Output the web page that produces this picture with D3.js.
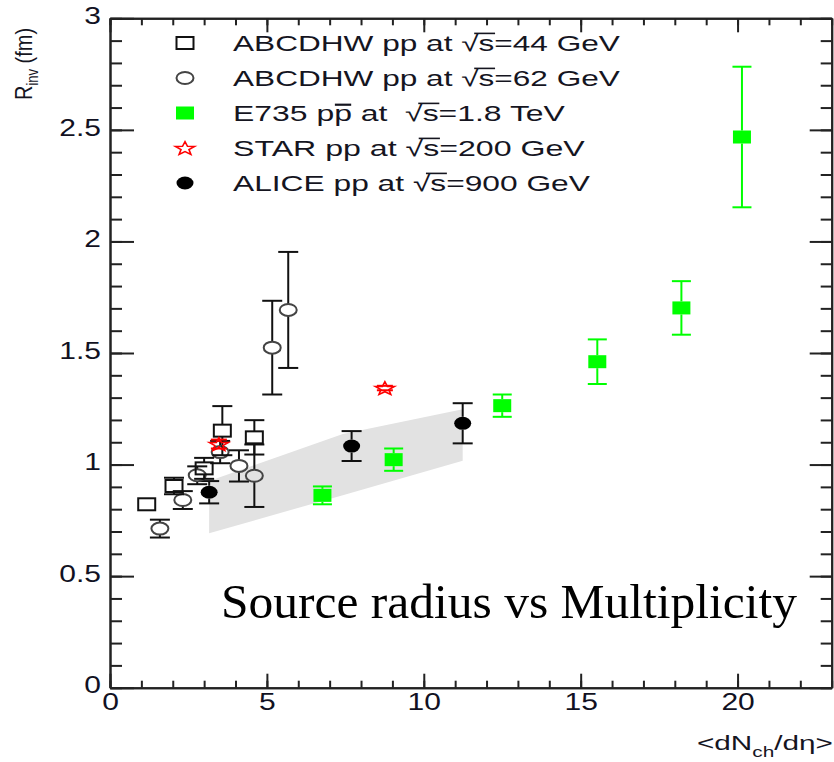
<!DOCTYPE html>
<html><head><meta charset="utf-8">
<script src="https://cdn.jsdelivr.net/npm/d3@7/dist/d3.min.js"></script>
<style>html,body{margin:0;padding:0;background:#fff;}svg{display:block;}</style>
</head><body>
<svg id="chart" width="834" height="762"></svg>
<script>
// ---------- data ----------
const xTickMajor = [0, 5, 10, 15, 20];
const yTickMajor = [0, 0.5, 1, 1.5, 2, 2.5, 3];
const yTickLabels = ["0", "0.5", "1", "1.5", "2", "2.5", "3"];

// ABCDHW pp at sqrt(s)=44 GeV (open squares)
const a44X = [1.17, 2.04, 3.00, 3.58, 4.60];
const a44Y = [0.822, 0.904, 0.983, 1.152, 1.122];
const a44E = [0.0, 0.037, 0.047, 0.11, 0.077];
// ABCDHW pp at sqrt(s)=62 GeV (open circles)
const a62X = [1.59, 2.32, 2.78, 3.51, 4.11, 4.60, 5.17, 5.68];
const a62Y = [0.713, 0.841, 0.952, 1.056, 0.994, 0.950, 1.524, 1.693];
const a62E = [0.04, 0.04, 0.04, 0.05, 0.07, 0.14, 0.21, 0.26];
// E735 ppbar at 1.8 TeV (green squares)
const e735X = [6.77, 9.04, 12.50, 15.53, 18.21, 20.14];
const e735Y = [0.862, 1.022, 1.264, 1.461, 1.702, 2.468];
const e735E = [0.04, 0.05, 0.05, 0.10, 0.12, 0.315];
// STAR pp at 200 GeV (red stars)
const starX = [3.47, 8.76];
const starY = [1.092, 1.343];
const starE = [0.02, 0.01];
// ALICE pp at 900 GeV (black circles)
const aliceX = [3.16, 7.70, 11.24];
const aliceY = [0.876, 1.083, 1.185];
const aliceE = [0.05, 0.067, 0.09];
// systematic band
const bandX = [3.16, 7.42, 11.24];
const bandHi = [0.926, 1.137, 1.248];
const bandLo = [0.692, 0.863, 1.017];

const legendLabels = [
  "ABCDHW pp at \u221As=44 GeV",
  "ABCDHW pp at \u221As=62 GeV",
  "E735 pp at  \u221As=1.8 TeV",
  "STAR pp at \u221As=200 GeV",
  "ALICE pp at \u221As=900 GeV"
];
const legendKinds = ["sq", "circ", "green", "star", "alice"];
const legendWidths = [387, 387, 332, 352, 357];

// ---------- layout ----------
const svg = d3.select("#chart");
const x = d3.scaleLinear().domain([0, 23]).range([110, 831.7]);
const y = d3.scaleLinear().domain([0, 3]).range([687.7, 18.3]);
const axisCol = "#222";
const FONT = "Liberation Sans, Arial, sans-serif";

// band
const bandPts = bandX.map((v, i) => [x(v), y(bandHi[i])])
  .concat(bandX.map((v, i) => [x(v), y(bandLo[i])]).reverse());
svg.append("path").attr("d", d3.line()(bandPts) + "Z").attr("fill", "#e2e2e2");

// axes
function styleAxis(g) {
  g.selectAll("path,line").attr("stroke", axisCol).attr("stroke-width", 2);
}
const xMinor = d3.range(0, 24);
const yMinor = d3.range(0, 31).map(d => d / 10);

svg.append("g").attr("transform", `translate(0,${y(0)})`)
  .call(d3.axisBottom(x).tickValues(xMinor).tickSize(-7).tickSizeOuter(0).tickFormat("")).call(styleAxis);
const xAx = svg.append("g").attr("transform", `translate(0,${y(0)})`)
  .call(d3.axisBottom(x).tickValues(xTickMajor).tickSize(-14).tickSizeOuter(0).tickPadding(5.5).tickFormat(d3.format("d")))
  .call(styleAxis);
xAx.selectAll("text").attr("font-size", 24).attr("font-family", FONT)
  .attr("fill", "#111122").attr("transform", `scale(1.25,1)`);

svg.append("g").attr("transform", `translate(${x(0)},0)`)
  .call(d3.axisLeft(y).tickValues(yMinor).tickSize(-12).tickSizeOuter(0).tickFormat("")).call(styleAxis);
const yAx = svg.append("g").attr("transform", `translate(${x(0)},0)`)
  .call(d3.axisLeft(y).tickValues(yTickMajor).tickSize(-24).tickSizeOuter(0).tickPadding(7.2)
    .tickFormat((d, i) => yTickLabels[i]))
  .call(styleAxis);
yAx.selectAll("text").attr("font-size", 24).attr("font-family", FONT)
  .attr("fill", "#111122").attr("dy", "0.22em").attr("transform", `scale(1.25,1)`);

svg.append("g").attr("transform", `translate(0,${y(3)})`)
  .call(d3.axisTop(x).tickValues(xMinor).tickSize(-7).tickSizeOuter(0).tickFormat("")).call(styleAxis);
svg.append("g").attr("transform", `translate(0,${y(3)})`)
  .call(d3.axisTop(x).tickValues(xTickMajor).tickSize(-14).tickSizeOuter(0).tickFormat("")).call(styleAxis);
svg.append("g").attr("transform", `translate(${x(23)},0)`)
  .call(d3.axisRight(y).tickValues(yMinor).tickSize(-11).tickSizeOuter(0).tickFormat("")).call(styleAxis);
svg.append("g").attr("transform", `translate(${x(23)},0)`)
  .call(d3.axisRight(y).tickValues(yTickMajor).tickSize(-22).tickSizeOuter(0).tickFormat("")).call(styleAxis);

// ---------- markers ----------
function starPath(R) {
  const pts = [];
  for (let k = 0; k < 10; k++) {
    const r = k % 2 === 0 ? R : R * 0.42;
    const a = -Math.PI / 2 + k * Math.PI / 5;
    pts.push([Math.cos(a) * r * 1.43, Math.sin(a) * r + R * 0.1]);
  }
  return d3.line()(pts) + "Z";
}
function drawMarker(g, kind, cx, cy) {
  if (kind === "sq") {
    g.append("rect").attr("x", cx - 8.5).attr("y", cy - 6).attr("width", 17).attr("height", 12)
      .attr("fill", "none").attr("stroke", "#111").attr("stroke-width", 2);
  } else if (kind === "circ") {
    g.append("ellipse").attr("cx", cx).attr("cy", cy).attr("rx", 8.5).attr("ry", 6)
      .attr("fill", "none").attr("stroke", "#444").attr("stroke-width", 2);
  } else if (kind === "green") {
    g.append("rect").attr("x", cx - 9).attr("y", cy - 6.5).attr("width", 18).attr("height", 13)
      .attr("fill", "#00ff00");
  } else if (kind === "star") {
    g.append("path").attr("d", starPath(7)).attr("transform", `translate(${cx},${cy})`)
      .attr("fill", "none").attr("stroke", "#ff0000").attr("stroke-width", 1.6);
  } else if (kind === "alice") {
    g.append("ellipse").attr("cx", cx).attr("cy", cy).attr("rx", 8.5).attr("ry", 6.5).attr("fill", "#000");
  }
}
function drawSeries(xs, ys, es, kind, col, capW, half) {
  const g = svg.append("g");
  xs.forEach((v, i) => {
    const cx = x(v), cy = y(ys[i]);
    const top = y(ys[i] + es[i]), bot = y(ys[i] - es[i]);
    const eg = g.append("g").attr("stroke", col).attr("stroke-width", 2);
    if (cy - top > half) {
      eg.append("line").attr("x1", cx).attr("x2", cx).attr("y1", cy - half).attr("y2", top);
      eg.append("line").attr("x1", cx - capW / 2).attr("x2", cx + capW / 2).attr("y1", top).attr("y2", top);
      eg.append("line").attr("x1", cx).attr("x2", cx).attr("y1", cy + half).attr("y2", bot);
      eg.append("line").attr("x1", cx - capW / 2).attr("x2", cx + capW / 2).attr("y1", bot).attr("y2", bot);
    } else if (es[i] > 0) {
      eg.append("line").attr("x1", cx - capW / 2).attr("x2", cx + capW / 2).attr("y1", top).attr("y2", top);
      eg.append("line").attr("x1", cx - capW / 2).attr("x2", cx + capW / 2).attr("y1", bot).attr("y2", bot);
    }
    drawMarker(g, kind, cx, cy);
  });
}
drawSeries(e735X, e735Y, e735E, "green", "#00ff00", 19, 6.5);
drawSeries(aliceX, aliceY, aliceE, "alice", "#111", 20, 6.5);
drawSeries(a62X, a62Y, a62E, "circ", "#111", 20, 6);
drawSeries(a44X, a44Y, a44E, "sq", "#111", 20, 6);
drawSeries(starX, starY, starE, "star", "#ff0000", 16, 2);

// ---------- legend ----------
const legFS = 22;
legendLabels.forEach((lab, i) => {
  const base = 51 + i * 35;
  drawMarker(svg, legendKinds[i], 185, base - 8);
  const g = svg.append("g");
  const t = g.append("text").attr("x", 0).attr("y", 0).attr("font-size", legFS)
    .attr("font-family", FONT).attr("fill", "#15151f")
    .attr("xml:space", "preserve").style("white-space", "pre").text(lab);
  const node = t.node();
  const sc = legendWidths[i] / node.getComputedTextLength();
  g.attr("transform", `translate(233,${base}) scale(${sc},1)`);
  const si = lab.indexOf("\u221A");
  const s1 = node.getStartPositionOfChar(si + 1).x;
  const s2 = node.getEndPositionOfChar(si + 1).x;
  const r1 = node.getStartPositionOfChar(si).x;
  g.append("line").attr("x1", r1 + (s1 - r1) * 0.75).attr("x2", s2 + 0.5)
    .attr("y1", -legFS * 0.8).attr("y2", -legFS * 0.8).attr("stroke", "#15151f").attr("stroke-width", 1.6);
  if (i === 2) {
    const pi = lab.indexOf("pp") + 1;
    const p1 = node.getStartPositionOfChar(pi).x, p2 = node.getEndPositionOfChar(pi).x;
    g.append("line").attr("x1", p1 + 0.5).attr("x2", p2 - 0.5)
      .attr("y1", -legFS * 0.74).attr("y2", -legFS * 0.74).attr("stroke", "#15151f").attr("stroke-width", 2.2);
  }
});

// ---------- titles ----------
const yt = svg.append("g").attr("transform", "translate(32,100) scale(1.2,1) rotate(-90)")
  .append("text").attr("font-size", 20).attr("font-family", FONT).attr("fill", "#15151f");
yt.append("tspan").text("R");
yt.append("tspan").attr("font-size", 13).attr("dy", 5).text("inv");
yt.append("tspan").attr("dy", -5).text(" (fm)");

const xtg = svg.append("g");
const xt = xtg.append("text").attr("font-size", 20).attr("font-family", FONT).attr("fill", "#15151f");
xt.append("tspan").text("<dN");
xt.append("tspan").attr("font-size", 14).attr("dy", 7).text("ch");
xt.append("tspan").attr("dy", -7).text("/d\u03b7>");
const xtw = xt.node().getComputedTextLength();
xtg.attr("transform", `translate(697,750) scale(${136 / xtw},1)`);

svg.append("text").attr("x", 221).attr("y", 618).attr("font-size", 49.5)
  .attr("font-family", "Liberation Serif, Times New Roman, serif").attr("fill", "#000")
  .text("Source radius vs Multiplicity");
</script>
</body></html>
